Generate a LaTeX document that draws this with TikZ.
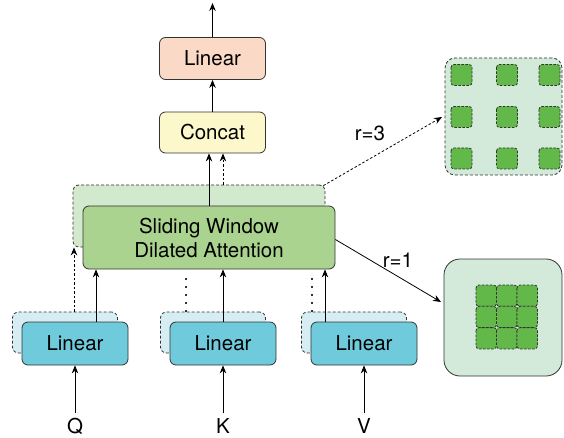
\documentclass[tikz,border=0pt]{standalone}
\usepackage{fontspec}
\setmainfont{TeX Gyre Heros}
\usetikzlibrary{arrows.meta}
\definecolor{peach}{HTML}{FAD9C6}
\definecolor{lyellow}{HTML}{FCF8CB}
\definecolor{lgreen}{HTML}{D3E9CD}
\definecolor{mgreen}{HTML}{A9D38E}
\definecolor{lblue}{HTML}{D6EEF3}
\definecolor{mblue}{HTML}{6FCBDB}
\definecolor{pgreen}{HTML}{D3EADA}
\definecolor{sqgreen}{HTML}{62B848}
\definecolor{edge}{HTML}{333333}
\tikzset{
  box/.style={draw=edge, line width=0.8pt, rounded corners=6pt, inner sep=0pt,
    font=\fontsize{20.5}{24}\selectfont, align=center},
  backbox/.style={draw=edge, line width=0.8pt, dashed, dash pattern=on 3pt off 2pt, rounded corners=6pt},
  arr/.style={-{Stealth[length=8pt,width=6.5pt]}, line width=0.8pt, draw=black},
  darr/.style={arr, dash pattern=on 2.5pt off 2pt},
  dots/.style={line width=1.4pt, draw=edge, dash pattern=on 1.2pt off 6.8pt},
  lbl/.style={font=\fontsize{20.5}{24}\selectfont, inner sep=0pt},
  sq/.style={draw=edge, fill=sqgreen, line width=0.8pt, dash pattern=on 2.5pt off 1.5pt, rounded corners=3pt},
}
\begin{document}
\begin{tikzpicture}[x=1pt,y=-1pt]
\useasboundingbox (0,0) rectangle (564,438);
% top boxes
\node[box, fill=peach, minimum width=106pt, minimum height=42pt] (lin) at (212.5,58.5) {Linear};
\node[box, fill=lyellow, minimum width=106pt, minimum height=41pt] (cat) at (212.5,132.5) {Concat};
\coordinate (outc) at (212.5,3);
\draw[arr] (lin.north) -- (outc);
\draw[arr] (cat.north) -- (lin.south);
% attention
\node[backbox, fill=lgreen, minimum width=252pt, minimum height=62pt, inner sep=0pt] (attb) at (199,216) {};
\node[box, fill=mgreen, minimum width=252pt, minimum height=63pt] (att) at (209,237.5) {Sliding Window\\Dilated Attention};
\draw[arr] (att.north -| 209,0) -- (cat.south -| 209,0);
\draw[darr] (attb.north -| 223,0) -- (cat.south -| 223,0);
% bottom linear boxes
\foreach \n/\x/\lab in {q/75/Q,k/223/K,v/364/V}{
  \node[backbox, fill=lblue, minimum width=105pt, minimum height=41pt] (\n b) at (\x-10,332.5) {};
  \node[box, fill=mblue, minimum width=106pt, minimum height=43pt] (\n) at (\x,343.5) {Linear};
  \node[lbl] (\n in) at (\x,426) {\lab};
  \draw[arr] (\n in.north) ++(0,-5) -- (\n.south);
}
\draw[arr] (q.north -| 96,0) -- (att.south -| 96,0);
\draw[arr] (k.north -| 223,0) -- (att.south -| 223,0);
\draw[arr] (v.north -| 325,0) -- (att.south -| 325,0);
\draw[darr] (qb.north -| 74,0) -- (attb.south -| 74,0);
\draw[dots] (kb.north -| 186,0) -- (186,272);
\draw[dots] (vb.north -| 312,0) -- (312,272);
% right top panel r=3
\node[backbox, fill=pgreen, minimum width=117pt, minimum height=117pt, rounded corners=10pt] (p3) at (503.5,116.5) {};
\foreach \cx in {461.5,507,549.5}{
  \foreach \cy in {75,117,158.5}{
    \draw[sq] (\cx-10.5,\cy-10.5) rectangle (\cx+10.5,\cy+10.5);
  }
}
\draw[darr] (attb.north east) ++(-2,1) -- (442,117);
\node[lbl] (r3) at (370,133) {r=3};
% right bottom panel r=1
\node[draw=edge, line width=0.8pt, fill=pgreen, rounded corners=16pt, minimum width=118pt, minimum height=117pt, inner sep=0pt] (p1) at (503,317.5) {};
\foreach \i in {0,1,2}{
  \foreach \j in {0,1,2}{
    \draw[sq] (476+\i*20.5,285+\j*21.3) rectangle (476+\i*20.5+20.5,285+\j*21.3+21.3);
  }
}
\draw[arr] (att.east) ++(0,2) -- (441,302);
\node[lbl] (r1) at (398,260) {r=1};
\end{tikzpicture}
\end{document}
